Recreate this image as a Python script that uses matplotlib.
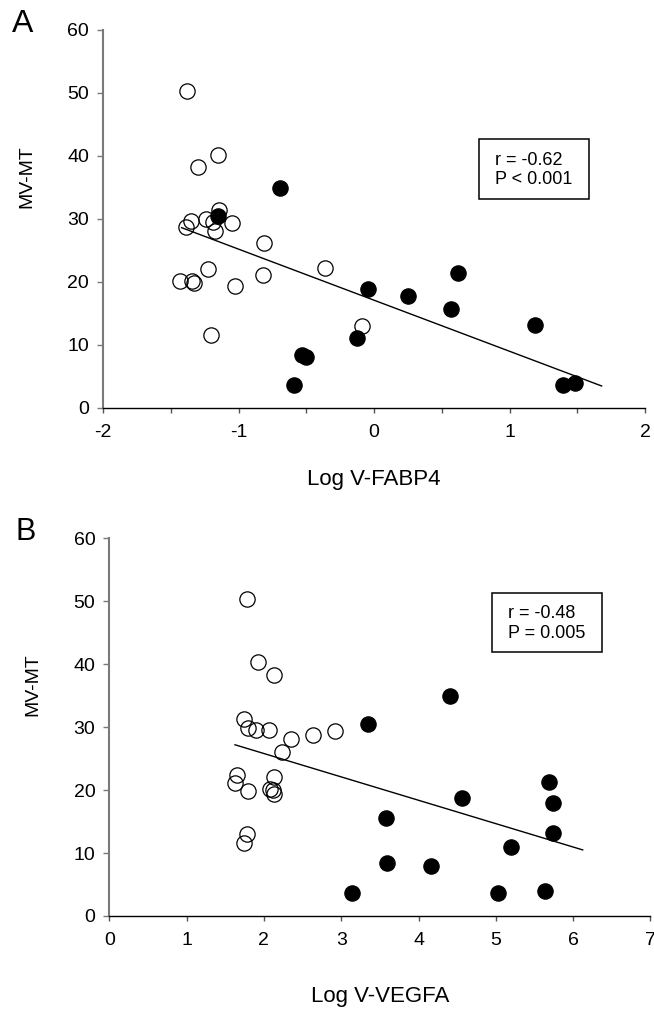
import matplotlib
matplotlib.use("Agg")
import matplotlib.pyplot as plt
from matplotlib.patches import Rectangle

plt.rcParams['font.family'] = ['Liberation Sans', 'DejaVu Sans']

# ---------------- data ----------------
# Panel A: Log V-FABP4 vs MV-MT
a_open_x = [-1.382, -1.149, -1.301, -1.144, -1.351, -1.390, -1.240, -1.186, -1.173, -1.050,
            -0.812, -1.223, -1.432, -1.345, -1.330, -1.026, -0.822, -0.359, -1.201, -0.089]
a_open_y = [50.3, 40.2, 38.3, 31.4, 29.6, 28.7, 29.9, 29.5, 28.1, 29.4,
            26.2, 22.0, 20.2, 20.2, 19.8, 19.4, 21.1, 22.2, 11.6, 13.0]
a_fill_x = [-0.694, -1.154, -0.042, -0.125, -0.530, -0.500, -0.590, 0.249, 0.623, 0.568,
            1.188, 1.397, 1.483]
a_fill_y = [34.9, 30.5, 18.9, 11.0, 8.4, 8.0, 3.6, 17.8, 21.4, 15.7, 13.2, 3.6, 3.9]
a_fit_x = [-1.42, 1.68]
a_fit_y = [28.6, 3.45]
a_stats = ["r = -0.62", "P < 0.001"]
a_xticks = [-2, -1, 0, 1, 2]
a_xminor = [-1.5, -0.5, 0.5, 1.5]

# Panel B: Log V-VEGFA vs MV-MT
b_open_x = [1.777, 1.928, 2.131, 1.743, 1.799, 1.898, 2.066, 2.347, 2.238, 2.631,
            2.920, 1.656, 1.626, 1.790, 2.131, 2.079, 2.122, 2.131, 1.777, 1.743]
b_open_y = [50.35, 40.3, 38.3, 31.3, 29.8, 29.6, 29.6, 28.1, 26.1, 28.8,
            29.4, 22.4, 21.2, 19.8, 22.1, 20.2, 20.0, 19.35, 13.1, 11.6]
b_fill_x = [4.408, 3.343, 5.692, 5.736, 5.736, 4.567, 3.575, 5.193, 3.588, 4.162,
            3.136, 5.032, 5.636]
b_fill_y = [34.9, 30.5, 21.35, 17.9, 13.15, 18.8, 15.6, 11.0, 8.4, 8.0, 3.6, 3.6, 3.9]
b_fit_x = [1.626, 6.124]
b_fit_y = [27.2, 10.5]
b_stats = ["r = -0.48", "P = 0.005"]
b_xticks = [0, 1, 2, 3, 4, 5, 6, 7]

yticks = [0, 10, 20, 30, 40, 50, 60]
ylabel = "MV-MT"

# ---------------- figure ----------------
W, H = 654, 1010
fig = plt.figure(figsize=(W / 100, H / 100), dpi=100)


def px_axes(left, right, top, bottom):
    return fig.add_axes([left / W, 1 - bottom / H, (right - left) / W, (bottom - top) / H])


axA = px_axes(103, 645, 30, 407.7)
axB = px_axes(109.3, 650.4, 538.3, 916)

FS_TICK = 14
FS_XLABEL = 16
FS_YLABEL = 14
FS_BOX = 13


def style(ax, xlim, xticks, xlabel, xlabel_y, minor=None):
    ax.set_xlim(*xlim)
    ax.set_ylim(0, 60)
    ax.set_xticks(xticks)
    ax.set_xticklabels([str(t) for t in xticks])
    if minor:
        ax.set_xticks(minor, minor=True)
    ax.set_yticks(yticks)
    for s in ['top', 'right']:
        ax.spines[s].set_visible(False)
    ax.spines['left'].set_color('#7a7a7a')
    ax.spines['left'].set_linewidth(1.5)
    ax.spines['bottom'].set_color('black')
    ax.spines['bottom'].set_linewidth(1.0)
    ax.tick_params(axis='y', direction='out', length=4.5, width=1.0, color='#7a7a7a',
                   labelsize=FS_TICK, pad=5.5, labelcolor='black')
    ax.tick_params(axis='x', which='both', direction='out', length=3.6, width=1.0,
                   color='#555555', labelsize=FS_TICK, pad=8.0)
    ax.set_xlabel(xlabel, fontsize=FS_XLABEL)
    ax.xaxis.set_label_coords(0.5, xlabel_y)
    ax.xaxis.label.set_va('top')
    ax.set_ylabel(ylabel, fontsize=FS_YLABEL)
    ax.yaxis.set_label_coords(-76.3 / 542, 0.613)
    ax.yaxis.label.set_va('center')
    ax.patch.set_alpha(0)


def draw(ax, ox, oy, fx, fy, lx, ly):
    ax.plot(lx, ly, color='black', lw=1.0, zorder=2)
    ax.plot(ox, oy, linestyle='none', marker='o', ms=11, mfc='none', mec='black', mew=0.9,
            zorder=3, clip_on=False)
    ax.plot(fx, fy, linestyle='none', marker='o', ms=11, mfc='black', mec='black', mew=0.9,
            zorder=4, clip_on=False)


def stats_box(ax, x0, x1, y0, y1, tx, ty1, ty2, lines):
    ax.add_patch(Rectangle((x0, y0), x1 - x0, y1 - y0, transform=ax.transAxes,
                           fill=False, ec='black', lw=1.1, zorder=5))
    ax.text(tx, ty1, lines[0], transform=ax.transAxes, fontsize=FS_BOX, ha='left', va='center')
    ax.text(tx, ty2, lines[1], transform=ax.transAxes, fontsize=FS_BOX, ha='left', va='center')


style(axA, (-2, 2), a_xticks, "Log V-FABP4", -0.1618, minor=a_xminor)
draw(axA, a_open_x, a_open_y, a_fill_x, a_fill_y, a_fit_x, a_fit_y)
stats_box(axA, 0.6943, 0.8972, 0.5526, 0.7106, 0.7232, 0.6558, 0.6029, a_stats)

style(axB, (0, 7), b_xticks, "Log V-VEGFA", -0.1848)
draw(axB, b_open_x, b_open_y, b_fill_x, b_fill_y, b_fit_x, b_fit_y)
stats_box(axB, 0.7067, 0.910, 0.6982, 0.8544, 0.7368, 0.8014, 0.7485, b_stats)

fig.text(12 / W, 1 - 32.3 / H, "A", fontsize=23, ha='left', va='baseline')
fig.text(15 / W, 1 - 540 / H, "B", fontsize=22, ha='left', va='baseline')

fig.savefig("out.png", dpi=100, facecolor='white')
